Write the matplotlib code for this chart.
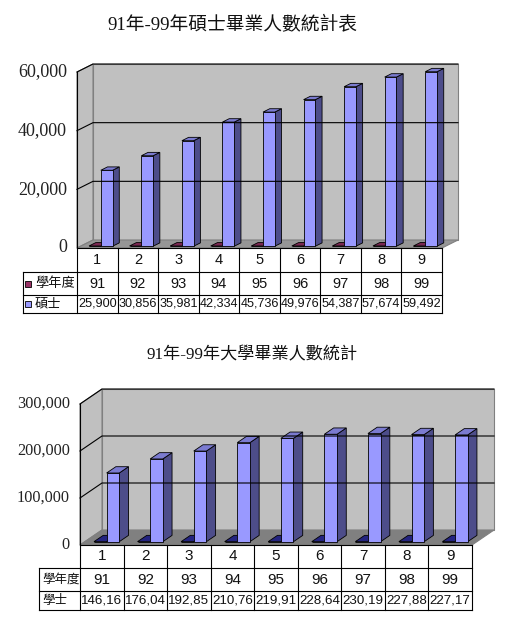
import matplotlib
matplotlib.use('Agg')
import matplotlib.pyplot as plt
from matplotlib.patches import Polygon

# data
categories = ['1', '2', '3', '4', '5', '6', '7', '8', '9']
years = [91, 92, 93, 94, 95, 96, 97, 98, 99]
master = [25900, 30856, 35981, 42334, 45736, 49976, 54387, 57674, 59492]
bachelor = [146160, 176040, 192850, 210760, 219910, 228640, 230190, 227880, 227170]

master_ticks = [0, 20000, 40000, 60000]
bachelor_ticks = [0, 100000, 200000, 300000]

title_top = '91年-99年碩士畢業人數統計表'
title_bottom = '91年-99年大學畢業人數統計'

W, H = 515, 620
SERIF = ['Liberation Serif', 'Noto Sans CJK TC']
SANS = ['Liberation Sans', 'Noto Sans CJK TC']
CJK = ['Noto Sans CJK TC', 'Liberation Sans']

fig = plt.figure(figsize=(W / 100, H / 100), dpi=100)


def px_axes(x0, y0, x1, y1):
    # pixel box (top-left origin) -> figure axes
    return fig.add_axes([x0 / W, 1 - y1 / H, (x1 - x0) / W, (y1 - y0) / H])


def shade(face, side, top):
    return dict(face=face, side=side, top=top)


def draw_chart(box, series, styles, ymax, ticks, dx, dy, floor_color, tick_size):
    x0, ytop, x1, y0 = box
    ax = px_axes(x0, ytop, x1, y0)
    n = len(categories)
    ax.set_xlim(0, n)
    ax.set_ylim(0, ymax)
    ax.set_axis_off()
    ddx = dx / ((x1 - x0) / n)
    ddy = dy / ((y0 - ytop) / ymax)

    wall = '#C0C0C0'
    edge = '#808080'
    ax.add_patch(Polygon([(ddx, ddy), (n + ddx, ddy), (n + ddx, ymax + ddy), (ddx, ymax + ddy)],
                         fc=wall, ec=edge, lw=0.8, clip_on=False))
    ax.add_patch(Polygon([(0, 0), (ddx, ddy), (ddx, ymax + ddy), (0, ymax)],
                         fc=wall, ec=edge, lw=0.8, clip_on=False))
    ax.add_patch(Polygon([(0, 0), (n, 0), (n + ddx, ddy), (ddx, ddy)],
                         fc=floor_color, ec=edge, lw=0.8, clip_on=False))
    for t in ticks[1:]:
        ax.plot([0, ddx, n + ddx], [t, t + ddy, t + ddy], color='black', lw=0.8, clip_on=False)
        ax.text(-10 * n / (x1 - x0), t, f'{t:,}', ha='right', va='center',
                fontsize=tick_size, family=SERIF, color='#222222')
    ax.text(-10 * n / (x1 - x0), 0, '0', ha='right', va='center',
            fontsize=tick_size, family=SERIF, color='#222222')
    ax.plot([0, 0], [0, ymax], color='black', lw=0.8, clip_on=False)

    w = 0.29
    f, b = 0.22, 0.64
    for i in range(n):
        for s, vals in enumerate(series):
            v = vals[i]
            st = styles[s]
            xl = i + (1 - 2 * w) / 2 + s * w
            xr = xl + w
            front = [(xl + f * ddx, f * ddy), (xr + f * ddx, f * ddy),
                     (xr + f * ddx, v + f * ddy), (xl + f * ddx, v + f * ddy)]
            side = [(xr + f * ddx, f * ddy), (xr + b * ddx, b * ddy),
                    (xr + b * ddx, v + b * ddy), (xr + f * ddx, v + f * ddy)]
            top = [(xl + f * ddx, v + f * ddy), (xr + f * ddx, v + f * ddy),
                   (xr + b * ddx, v + b * ddy), (xl + b * ddx, v + b * ddy)]
            for pts, key in ((side, 'side'), (front, 'face'), (top, 'top')):
                ax.add_patch(Polygon(pts, fc=st[key], ec='black', lw=0.6, clip_on=False))
    return ax


def draw_table(box, rows, label_left, row_bounds, labels, markers, sizes, label_size):
    x0, y0, x1 = box
    ax = px_axes(x0, y0, x1, y0 + row_bounds[-1])
    n = len(categories)
    ax.set_xlim(0, n)
    ax.set_ylim(row_bounds[-1], 0)
    ax.set_axis_off()
    unit = (x1 - x0) / n
    lx = (label_left - x0) / unit
    kw = dict(color='black', lw=0.8, clip_on=False)
    for k in range(n + 1):
        ax.plot([k, k], [0, row_bounds[-1]], **kw)
    ax.plot([0, n], [0, 0], **kw)
    for rb in row_bounds[1:]:
        ax.plot([lx, n], [rb, rb], **kw)
    ax.plot([lx, lx], [row_bounds[1], row_bounds[-1]], **kw)

    for r, cells in enumerate(rows):
        yc = (row_bounds[r] + row_bounds[r + 1]) / 2
        for k, c in enumerate(cells):
            ax.text(k + 0.5, yc, c, ha='center', va='center', fontsize=sizes[r],
                    family=SANS, color='#111111')
        if r > 0:
            tx = lx + 3 / unit
            if markers:
                ax.add_patch(plt.Rectangle((lx + 2 / unit, yc - 3), 6 / unit, 6,
                                           fc=markers[r - 1], ec='black', lw=0.6, clip_on=False))
                tx = lx + 12 / unit
            ax.text(tx, yc, labels[r - 1], ha='left', va='center', fontsize=label_size,
                    family=CJK, color='#111111')


# ---- top chart: 碩士 ----
fig.text(232 / W, 1 - 25 / H, title_top, ha='center', va='center', fontsize=13.5,
         family=SERIF, color='#111111')
draw_chart((77, 72, 442, 248), [years, master],
           [shade('#993366', '#5E1F40', '#7A2852'), shade('#9999FF', '#4D4D8A', '#7B7BD0')],
           60000, master_ticks, 16, 8, '#969696', 13)
master_labels = [f'{v:,}' for v in master]
draw_table((77, 248, 442), [categories, [str(y) for y in years], master_labels],
           23, [0, 24, 47, 65], ['學年度', '碩士'], ['#993366', '#9999FF'], [10.5, 10.5, 9.1], 9.5)

# ---- bottom chart: 學士 ----
fig.text(252 / W, 1 - 355 / H, title_bottom, ha='center', va='center', fontsize=12.3,
         family=SERIF, color='#111111')
draw_chart((80, 404, 472, 545), [years, bachelor],
           [shade('#1A1A70', '#0E0E45', '#24247F'), shade('#9999FF', '#4D4D8A', '#7B7BD0')],
           300000, bachelor_ticks, 22, 15, '#808080', 11.7)
bachelor_labels = [f'{v:,}'[:6] for v in bachelor]
draw_table((80, 545, 472), [categories, [str(y) for y in years], bachelor_labels],
           39, [0, 23, 46, 65], ['學年度', '學士'], None, [11, 11, 9.6], 9)

fig.savefig('out.png', dpi=100, facecolor='white')
